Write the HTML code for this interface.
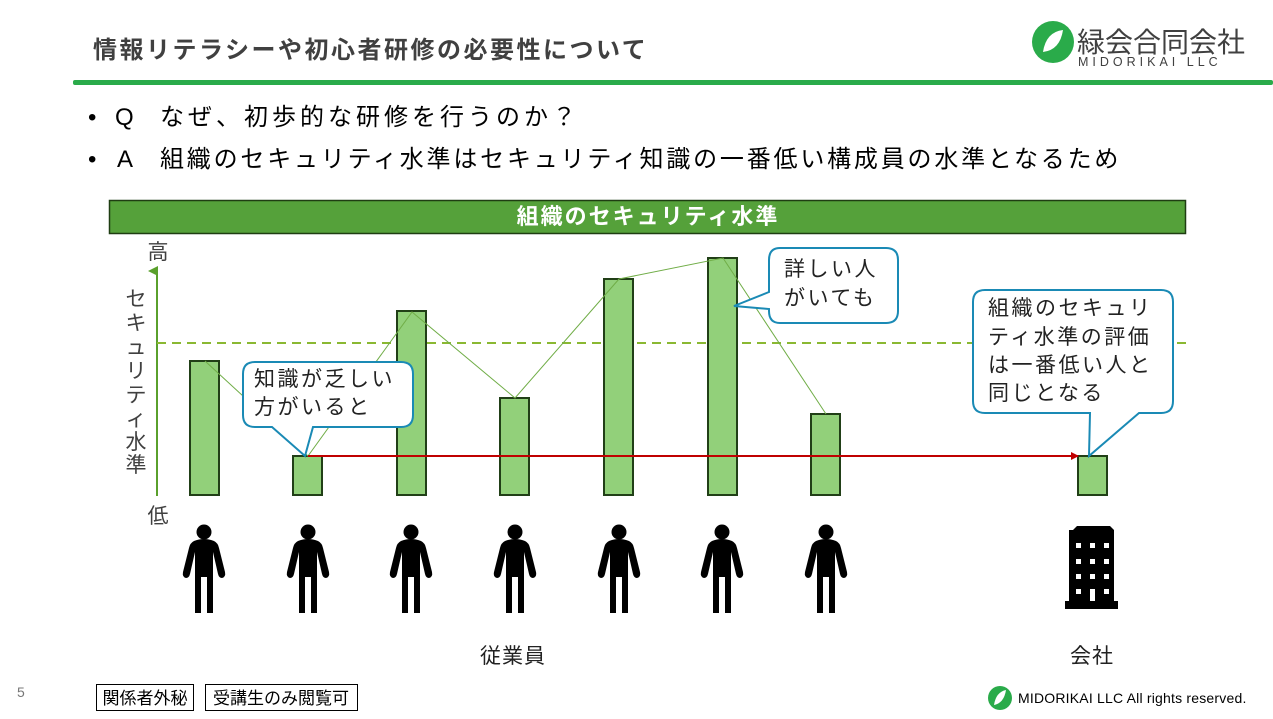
<!DOCTYPE html>
<html><head><meta charset="utf-8"><style>
html,body{margin:0;padding:0;background:#fff;}
svg{display:block;font-family:"Liberation Sans","Noto Sans CJK JP",sans-serif;}
</style></head><body>
<svg width="1273" height="719" viewBox="0 0 1273 719" xmlns="http://www.w3.org/2000/svg">
<defs>
<g id="p">
<circle cx="0" cy="532" r="7.5" fill="#000"/>
<path d="M-10,541 Q0,537 10,541 Q14,543 15,548 L21,572 Q22,577 18,578 Q15,578 14,574 L9,552 L9,613 L3,613 L3,577 L-3,577 L-3,613 L-9,613 L-9,552 L-14,574 Q-15,578 -18,578 Q-22,577 -21,572 L-15,548 Q-14,543 -10,541 Z" fill="#000"/>
</g>
<marker id="ar" markerWidth="8" markerHeight="8" refX="7" refY="4" orient="auto" markerUnits="userSpaceOnUse"><path d="M0,0 L8,4 L0,8 Z" fill="#c00000"/></marker>
<marker id="ag" markerWidth="10" markerHeight="10" refX="5" refY="9" orient="auto" markerUnits="userSpaceOnUse"><path d="M0,10 L5,0 L10,10 Z" fill="#5aa02c"/></marker>
</defs>

<text x="93" y="58" font-size="24" font-weight="bold" fill="#404040" letter-spacing="2.5">情報リテラシーや初心者研修の必要性について</text>
<rect x="73" y="80" width="1200" height="5" rx="2" fill="#2aab4a"/>
<circle cx="1053" cy="42" r="21" fill="#2aab4a"/>
<path d="M1043,52 Q1046,32 1063,30 Q1060,50 1043,52 Z" fill="#fff"/>
<text x="1077" y="52" font-size="28" fill="#404040">緑会合同会社</text>
<text x="1078" y="66" font-size="12.5" fill="#404040" letter-spacing="4">MIDORIKAI LLC</text>

<g font-size="24" fill="#000">
<text x="88" y="125">•</text><text x="115" y="125">Q</text>
<text x="160" y="125" letter-spacing="4">なぜ、初歩的な研修を行うのか？</text>
<text x="88" y="167">•</text><text x="117" y="167">A</text>
<text x="160" y="167" letter-spacing="2.8">組織のセキュリティ水準はセキュリティ知識の一番低い構成員の水準となるため</text>
</g>

<rect x="109.5" y="200.5" width="1076" height="33" fill="#55a13a" stroke="#1f3d12" stroke-width="1.5"/>
<text x="648" y="224" font-size="22" font-weight="bold" fill="#fff" text-anchor="middle" letter-spacing="2">組織のセキュリティ水準</text>

<text x="158" y="259" font-size="21" fill="#404040" text-anchor="middle">高</text>
<text x="158" y="523" font-size="21" fill="#404040" text-anchor="middle">低</text>
<line x1="157" y1="496" x2="157" y2="271" stroke="#5aa02c" stroke-width="2" marker-end="url(#ag)"/>
<g font-size="21" fill="#404040" text-anchor="middle">
<text x="136" y="306">セ</text><text x="136" y="330">キ</text><text x="136" y="354">ュ</text><text x="136" y="378">リ</text><text x="136" y="402">テ</text><text x="136" y="426">ィ</text><text x="136" y="449">水</text><text x="136" y="472">準</text>
</g>
<line x1="157" y1="343" x2="1186" y2="343" stroke="#8ab832" stroke-width="2" stroke-dasharray="9,6"/>

<g fill="#92d07a" stroke="#213f17" stroke-width="2">
<rect x="190" y="361" width="29" height="134"/>
<rect x="293" y="456" width="29" height="39"/>
<rect x="397" y="311" width="29" height="184"/>
<rect x="500" y="398" width="29" height="97"/>
<rect x="604" y="279" width="29" height="216"/>
<rect x="708" y="258" width="29" height="237"/>
<rect x="811" y="414" width="29" height="81"/>
<rect x="1078" y="456" width="29" height="39"/>
</g>
<polyline points="205,361 308,456 412,312 515,398 619,279 723,258 826,414" fill="none" stroke="#70ad47" stroke-width="1"/>
<line x1="308" y1="456" x2="1078" y2="456" stroke="#c00000" stroke-width="2" marker-end="url(#ar)"/>

<g fill="#fff" stroke="#1a8ab5" stroke-width="2">
<path d="M255,362 H401 Q413,362 413,374 V415 Q413,427 401,427 H313 L305,456 L272,427 H255 Q243,427 243,415 V374 Q243,362 255,362 Z"/>
<path d="M780,248 H886 Q898,248 898,260 V311 Q898,323 886,323 H780 Q769,323 769,311 V309 L734,306 L769,292 V260 Q769,248 780,248 Z"/>
<path d="M985,290 H1161 Q1173,290 1173,302 V401 Q1173,413 1161,413 H1139 L1089,456 L1090,413 H985 Q973,413 973,401 V302 Q973,290 985,290 Z"/>
</g>
<g font-size="21" fill="#222" letter-spacing="2.5">
<text x="254" y="386">知識が乏しい</text><text x="254" y="414">方がいると</text>
<text x="784" y="276">詳しい人</text><text x="784" y="305">がいても</text>
<text x="988" y="315">組織のセキュリ</text><text x="988" y="344">ティ水準の評価</text><text x="988" y="372">は一番低い人と</text><text x="988" y="400">同じとなる</text>
</g>

<use href="#p" x="204"/><use href="#p" x="308"/><use href="#p" x="411"/><use href="#p" x="515"/><use href="#p" x="619"/><use href="#p" x="722"/><use href="#p" x="826"/>
<path d="M1073,530 L1077,526 H1110 L1114,530 V601 H1118 V609 H1065 V601 H1069 V530 Z" fill="#000"/>
<g fill="#fff">
<rect x="1076" y="543" width="5" height="5"/><rect x="1090" y="543" width="5" height="5"/><rect x="1104" y="543" width="5" height="5"/>
<rect x="1076" y="559" width="5" height="5"/><rect x="1090" y="559" width="5" height="5"/><rect x="1104" y="559" width="5" height="5"/>
<rect x="1076" y="574" width="5" height="5"/><rect x="1090" y="574" width="5" height="5"/><rect x="1104" y="574" width="5" height="5"/>
<rect x="1076" y="589" width="5" height="5"/><rect x="1090" y="589" width="5" height="12"/><rect x="1104" y="589" width="5" height="5"/>
</g>

<text x="513" y="663" font-size="21" fill="#222" text-anchor="middle" letter-spacing="1">従業員</text>
<text x="1092" y="663" font-size="21" fill="#222" text-anchor="middle" letter-spacing="1">会社</text>

<text x="17" y="697" font-size="14" fill="#777">5</text>
<rect x="96.5" y="684.5" width="97" height="26" fill="#fff" stroke="#000" stroke-width="1"/>
<text x="145" y="704" font-size="17" fill="#000" text-anchor="middle">関係者外秘</text>
<rect x="205.5" y="684.5" width="152" height="26" fill="#fff" stroke="#000" stroke-width="1"/>
<text x="281" y="704" font-size="17" fill="#000" text-anchor="middle">受講生のみ閲覧可</text>

<circle cx="1000" cy="698" r="12" fill="#2aab4a"/>
<path d="M994,705 Q996,692 1006,690 Q1004,703 994,705 Z" fill="#fff"/>
<text x="1018" y="703" font-size="14" fill="#000" letter-spacing="0.2">MIDORIKAI LLC All rights reserved.</text>
</svg>
</body></html>
